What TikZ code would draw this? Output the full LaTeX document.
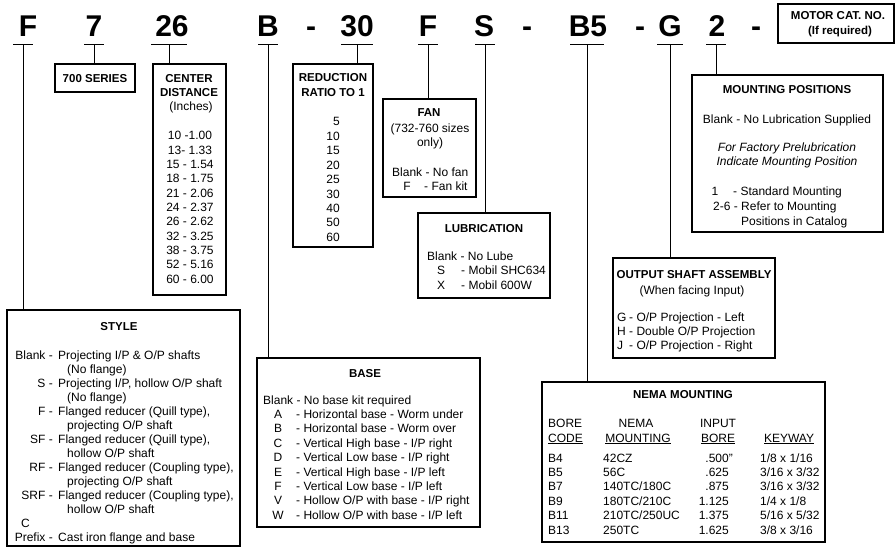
\documentclass[tikz,border=0pt]{standalone}
\usepackage{fontspec}
\setmainfont{Liberation Sans}
\usetikzlibrary{fit}
\begin{document}
\begin{tikzpicture}[x=1pt,y=-1pt,
  box/.style={draw, line width=1.1pt, inner sep=0pt, outer sep=0pt},
  lnk/.style={line width=1pt},
  big/.style={font=\fontsize{30}{30}\selectfont\bfseries, anchor=base, inner sep=0pt},
  tl/.style={anchor=base west, inner sep=0pt, font=\fontsize{12}{14}\selectfont},
  tr/.style={anchor=base east, inner sep=0pt, font=\fontsize{12}{14}\selectfont},
  tc/.style={anchor=base, inner sep=0pt, font=\fontsize{12}{14}\selectfont},
  hd/.style={anchor=base, inner sep=0pt, font=\fontsize{11.5}{14}\selectfont\bfseries},
]
\useasboundingbox[fill=white] (0,0) rectangle (896,548);

% ---------- code letters ----------
\node[big] (lF)  at (28,37)  {F};
\node[big] (l7)  at (94,37)  {7};
\node[big] (l26) at (172,37) {26};
\node[big] (lB)  at (268,37) {B};
\node[big] (d1)  at (311,37) {-};
\node[big] (l30) at (357,37) {30};
\node[big] (lF2) at (428,37) {F};
\node[big] (lS)  at (484,37) {S};
\node[big] (d2)  at (527,37) {-};
\node[big] (lB5) at (588,37) {B5};
\node[big] (d3)  at (640,37) {-};
\node[big] (lG)  at (670,37) {G};
\node[big] (l2)  at (717,37) {2};
\node[big] (d4)  at (756,37) {-};

% ---------- boxes ----------
\node[box, fit={(778,4) (894,43)}] (motor) {};
\node[box, fit={(55,64) (135,92)}] (series) {};
\node[box, fit={(153,64) (226,295)}] (cd) {};
\node[box, fit={(293,64) (373,247)}] (red) {};
\node[box, fit={(383,99) (476,197)}] (fan) {};
\node[box, fit={(418,213) (550,298)}] (lub) {};
\node[box, fit={(692,75) (883,232)}] (mnt) {};
\node[box, fit={(613,258) (775,358)}] (osa) {};
\node[box, fit={(7,310) (240,546)}] (style) {};
\node[box, fit={(257,358) (480,527)}] (base) {};
\node[box, fit={(542,382) (825,542)}] (nema) {};

% ---------- T connectors ----------
\coordinate (bF)  at (23,45);
\coordinate (b7)  at (94,45);
\coordinate (b26) at (169,45);
\coordinate (bB)  at (268,45);
\coordinate (b30) at (357,45);
\coordinate (bF2) at (428,45);
\coordinate (bS)  at (485,45);
\coordinate (bB5) at (587,45);
\coordinate (bG)  at (670,45);
\coordinate (b2)  at (716,45);
\foreach \c/\w in {bF/10,b7/10,b26/18,bB/10,b30/16,bF2/10,bS/10,bB5/17,bG/13,b2/10}
  \draw[lnk] ([xshift=-\w pt]\c) -- ([xshift=\w pt]\c);
\draw[lnk] (bF)  -- (bF |- style.north);
\draw[lnk] (b7)  -- (b7 |- series.north);
\draw[lnk] (b26) -- (b26 |- cd.north);
\draw[lnk] (bB)  -- (bB |- base.north);
\draw[lnk] (b30) -- (b30 |- red.north);
\draw[lnk] (bF2) -- (bF2 |- fan.north);
\draw[lnk] (bS)  -- (bS |- lub.north);
\draw[lnk] (bB5) -- (bB5 |- nema.north);
\draw[lnk] (bG)  -- (bG |- osa.north);
\draw[lnk] (b2)  -- (b2 |- mnt.north);

% ---------- motor ----------
\node[hd] (mot1) at (838,20) {MOTOR CAT. NO.};
\node[hd] (mot2) at (840,35) {(If required)};

% ---------- 700 series ----------
\node[hd] (ser) at (95,83) {700 SERIES};

% ---------- center distance ----------
\node[hd] (cd1) at (189,83) {CENTER};
\node[hd] (cd2) at (189,97) {DISTANCE};
\node[tc] (cd3) at (191,111) {(Inches)};
\foreach \t [count=\i from 0] in {10 -1.00,13- 1.33,15 - 1.54,18 - 1.75,21 - 2.06,24 - 2.37,26 - 2.62,32 - 3.25,38 - 3.75,52 - 5.16,60 - 6.00}
  \node[tc] (cdv\i) at (190,140+14.3*\i) {\t};

% ---------- reduction ----------
\node[hd] (rd1) at (333,82) {REDUCTION};
\node[hd] (rd2) at (333,97) {RATIO TO 1};
\foreach \t [count=\i from 0] in {5,10,15,20,25,30,40,50,60}
  \node[tr] (rdv\i) at (340,126+14.4*\i) {\t};

% ---------- fan ----------
\node[hd] (fn1) at (429,117) {FAN};
\node[tc] (fn2) at (430,133) {(732-760 sizes};
\node[tc] (fn3) at (430,147) {only)};
\node[tl] (fn4) at (392,176) {Blank - No fan};
\node[tc] (fn5) at (407,190) {F};
\node[tl] (fn6) at (424,190) {- Fan kit};

% ---------- lubrication ----------
\node[hd] (lb1) at (484,232) {LUBRICATION};
\node[tl] (lb2) at (427,260) {Blank - No Lube};
\node[tc] (lb3) at (441,274.5) {S};
\node[tl] (lb4) at (461,274.5) {- Mobil SHC634};
\node[tc] (lb5) at (441,289) {X};
\node[tl] (lb6) at (461,289) {- Mobil 600W};

% ---------- mounting positions ----------
\node[hd] (mp1) at (787,94) {MOUNTING POSITIONS};
\node[tc] (mp2) at (787,124) {Blank - No Lubrication Supplied};
\node[tc, font=\fontsize{12}{14}\selectfont\itshape] (mp3) at (787,152) {For Factory Prelubrication};
\node[tc, font=\fontsize{12}{14}\selectfont\itshape] (mp4) at (787,166) {Indicate Mounting Position};
\node[tc] (mp5) at (715,196) {1};
\node[tl] (mp6) at (733,196) {- Standard Mounting};
\node[tl] (mp7) at (713,210) {2-6 - Refer to Mounting};
\node[tl] (mp8) at (741,225) {Positions in Catalog};

% ---------- output shaft ----------
\node[hd] (os1) at (694,278) {OUTPUT SHAFT ASSEMBLY};
\node[tc] (os2) at (692,294) {(When facing Input)};
\node[tl] (os3) at (617,321) {G};
\node[tl] (os4) at (629,321) {- O/P Projection - Left};
\node[tl] (os5) at (617,335) {H};
\node[tl] (os6) at (629,335) {- Double O/P Projection};
\node[tl] (os7) at (617,349) {J};
\node[tl] (os8) at (629,349) {- O/P Projection - Right};

% ---------- style ----------
\node[hd] (st0) at (119,330) {STYLE};
\node[tr] (sc0) at (53,359) {Blank -};
\node[tl] (sd0) at (58,359) {Projecting I/P \& O/P shafts};
\node[tl] (sd1) at (67,373) {(No flange)};
\node[tr] (sc2) at (53,387) {S -};
\node[tl] (sd2) at (58,387) {Projecting I/P, hollow O/P shaft};
\node[tl] (sd3) at (67,401) {(No flange)};
\node[tr] (sc4) at (53,415) {F -};
\node[tl] (sd4) at (58,415) {Flanged reducer (Quill type),};
\node[tl] (sd5) at (67,429) {projecting O/P shaft};
\node[tr] (sc6) at (53,443) {SF -};
\node[tl] (sd6) at (58,443) {Flanged reducer (Quill type),};
\node[tl] (sd7) at (67,457) {hollow O/P shaft};
\node[tr] (sc8) at (53,471) {RF -};
\node[tl] (sd8) at (58,471) {Flanged reducer (Coupling type),};
\node[tl] (sd9) at (67,485) {projecting O/P shaft};
\node[tr] (sc10) at (53,499) {SRF -};
\node[tl] (sd10) at (58,499) {Flanged reducer (Coupling type),};
\node[tl] (sd11) at (67,513) {hollow O/P shaft};
\node[tl] (sc12) at (21,527) {C};
\node[tr] (sc13) at (53,541) {Prefix -};
\node[tl] (sd13) at (58,541) {Cast iron flange and base};

% ---------- base ----------
\node[hd] (bs0) at (365,377) {BASE};
\node[tl] (bs1) at (263,404) {Blank - No base kit required};
\node[tc] (bsc1) at (278,418.4) {A};
\node[tl] (bsd1) at (296,418.4) {- Horizontal base - Worm under};
\node[tc] (bsc2) at (278,432.8) {B};
\node[tl] (bsd2) at (296,432.8) {- Horizontal base - Worm over};
\node[tc] (bsc3) at (278,447.2) {C};
\node[tl] (bsd3) at (296,447.2) {- Vertical High base - I/P right};
\node[tc] (bsc4) at (278,461.6) {D};
\node[tl] (bsd4) at (296,461.6) {- Vertical Low base - I/P right};
\node[tc] (bsc5) at (278,476) {E};
\node[tl] (bsd5) at (296,476) {- Vertical High base - I/P left};
\node[tc] (bsc6) at (278,490.4) {F};
\node[tl] (bsd6) at (296,490.4) {- Vertical Low base - I/P left};
\node[tc] (bsc7) at (278,504.8) {V};
\node[tl] (bsd7) at (296,504.8) {- Hollow O/P with base - I/P right};
\node[tc] (bsc8) at (278,519.2) {W};
\node[tl] (bsd8) at (296,519.2) {- Hollow O/P with base - I/P left};

% ---------- NEMA ----------
\node[hd] (nm0) at (683,398) {NEMA MOUNTING};
\node[tl] (nh1) at (548,427) {BORE};
\node[tl] (nh2) at (548,442) {\underline{CODE}};
\node[tc] (nh3) at (636,427) {NEMA};
\node[tc] (nh4) at (638,442) {\underline{MOUNTING}};
\node[tc] (nh5) at (718,427) {INPUT};
\node[tc] (nh6) at (718,442) {\underline{BORE}};
\node[tc] (nh7) at (789,442) {\underline{KEYWAY}};
\node[tl] (na0) at (548,462) {B4};
\node[tl] (nb0) at (603,462) {42CZ};
\node[tr] (nc0) at (729,462) {.500\rlap{"}};
\node[tl] (nd0) at (760,462) {1/8 x 1/16};
\node[tl] (na1) at (548,476.4) {B5};
\node[tl] (nb1) at (603,476.4) {56C};
\node[tr] (nc1) at (729,476.4) {.625};
\node[tl] (nd1) at (760,476.4) {3/16 x 3/32};
\node[tl] (na2) at (548,490.8) {B7};
\node[tl] (nb2) at (603,490.8) {140TC/180C};
\node[tr] (nc2) at (729,490.8) {.875};
\node[tl] (nd2) at (760,490.8) {3/16 x 3/32};
\node[tl] (na3) at (548,505.2) {B9};
\node[tl] (nb3) at (603,505.2) {180TC/210C};
\node[tr] (nc3) at (729,505.2) {1.125};
\node[tl] (nd3) at (760,505.2) {1/4 x 1/8};
\node[tl] (na4) at (548,519.6) {B11};
\node[tl] (nb4) at (603,519.6) {210TC/250UC};
\node[tr] (nc4) at (729,519.6) {1.375};
\node[tl] (nd4) at (760,519.6) {5/16 x 5/32};
\node[tl] (na5) at (548,534) {B13};
\node[tl] (nb5) at (603,534) {250TC};
\node[tr] (nc5) at (729,534) {1.625};
\node[tl] (nd5) at (760,534) {3/8 x 3/16};
\end{tikzpicture}
\end{document}
